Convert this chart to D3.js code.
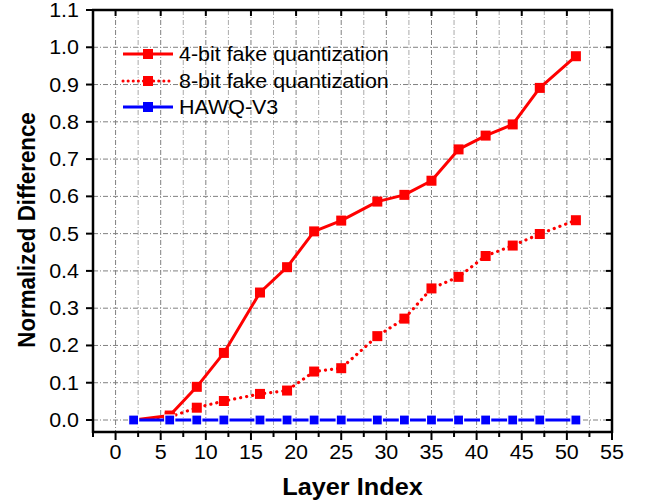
<!DOCTYPE html>
<html><head><meta charset="utf-8">
<script src="https://cdn.jsdelivr.net/npm/d3@7"></script>
<style>html,body{margin:0;padding:0;background:#fff;}svg{display:block;}</style>
</head><body>
<script>
const layers = [2, 6, 9, 12, 16, 19, 22, 25, 29, 32, 35, 38, 41, 44, 47, 51];
const fourBit = [0.0, 0.012, 0.089, 0.18, 0.342, 0.41, 0.506, 0.535, 0.586, 0.604, 0.642, 0.726, 0.763, 0.793, 0.891, 0.976];
const eightBit = [0.0, 0.008, 0.033, 0.051, 0.07, 0.079, 0.13, 0.139, 0.225, 0.272, 0.353, 0.384, 0.44, 0.468, 0.499, 0.536];
const hawq = [0, 0, 0, 0, 0, 0, 0, 0, 0, 0, 0, 0, 0, 0, 0, 0];
const seriesNames = ["4-bit fake quantization", "8-bit fake quantization", "HAWQ-V3"];
const xTicks = [0, 5, 10, 15, 20, 25, 30, 35, 40, 45, 50, 55];
const xMinor = [-2.5, 2.5, 7.5, 12.5, 17.5, 22.5, 27.5, 32.5, 37.5, 42.5, 47.5, 52.5];
const yTicks = [0.0, 0.1, 0.2, 0.3, 0.4, 0.5, 0.6, 0.7, 0.8, 0.9, 1.0, 1.1];
const xTitle = "Layer Index";
const yTitle = "Normalized Difference";

const W = 645, H = 503;
const L = 93, R = 612, T = 10, B = 432;
const SX = 1.1; // horizontal stretch of the text in the reference
const x = d3.scaleLinear().domain([-2.5, 55]).range([L, R]);
const y = d3.scaleLinear().domain([0, 1.1]).range([420, T]);

const svg = d3.select("body").append("svg").attr("width", W).attr("height", H);
const font = "Arial, 'Liberation Sans', sans-serif";

// grid
const grid = svg.append("g");
grid.selectAll(".vmin").data(xMinor.filter(v => v > -2.5)).enter().append("line")
  .attr("x1", d => x(d)).attr("x2", d => x(d)).attr("y1", T).attr("y2", B)
  .attr("stroke", "#aaaaaa").attr("stroke-width", 1).attr("stroke-dasharray", "5,2,1,2");
grid.selectAll(".vmaj").data(xTicks.filter(v => v < 55)).enter().append("line")
  .attr("x1", d => x(d)).attr("x2", d => x(d)).attr("y1", T).attr("y2", B)
  .attr("stroke", "#808080").attr("stroke-width", 1).attr("stroke-dasharray", "5,2,1,2");
grid.selectAll(".h").data(yTicks.filter(v => v < 1.1)).enter().append("line")
  .attr("x1", L).attr("x2", R).attr("y1", d => y(d)).attr("y2", d => y(d))
  .attr("stroke", "#808080").attr("stroke-width", 1).attr("stroke-dasharray", "5,2,1,2");

// series
const pts = arr => arr.map((v, i) => [layers[i], v]);
const line = d3.line().x(d => x(d[0])).y(d => y(d[1]));

function drawSeries(data, color, dash, width, markerStroke) {
  const g = svg.append("g");
  g.append("path").attr("d", line(pts(data))).attr("fill", "none")
    .attr("stroke", color).attr("stroke-width", width)
    .attr("stroke-dasharray", dash).attr("stroke-linecap", dash ? "round" : "butt")
    .attr("stroke-linejoin", "round");
  g.selectAll("rect").data(pts(data)).enter().append("rect")
    .attr("x", d => x(d[0]) - 5).attr("y", d => y(d[1]) - 5)
    .attr("width", 10).attr("height", 10).attr("fill", color)
    .attr("stroke", markerStroke).attr("stroke-width", markerStroke === "none" ? 0 : 1.2);
}
drawSeries(eightBit, "#ff0000", "0.1,6", 3.2, "none");
drawSeries(fourBit, "#ff0000", null, 3, "none");
drawSeries(hawq, "#0000ff", null, 3, "#ffffff");

// axes frame
const ax = svg.append("g").attr("stroke", "#000");
ax.append("line").attr("x1", L).attr("x2", L).attr("y1", T - 1).attr("y2", B + 1).attr("stroke-width", 2.5);
ax.append("line").attr("x1", R).attr("x2", R).attr("y1", T - 1).attr("y2", B + 1).attr("stroke-width", 2.5);
ax.append("line").attr("x1", L - 1).attr("x2", R + 1).attr("y1", T).attr("y2", T).attr("stroke-width", 2.5);
ax.append("line").attr("x1", L - 1).attr("x2", R + 1).attr("y1", B).attr("y2", B).attr("stroke-width", 2.5);

ax.selectAll(".yt").data(yTicks).enter().append("line")
  .attr("x1", L - 7).attr("x2", L).attr("y1", d => y(d)).attr("y2", d => y(d)).attr("stroke-width", 2);
ax.selectAll(".yr").data(yTicks).enter().append("line")
  .attr("x1", R - 6).attr("x2", R).attr("y1", d => y(d)).attr("y2", d => y(d)).attr("stroke-width", 2);
ax.selectAll(".xt").data(xTicks).enter().append("line")
  .attr("x1", d => x(d)).attr("x2", d => x(d)).attr("y1", B).attr("y2", B + 8).attr("stroke-width", 2);
ax.selectAll(".xm").data(xMinor).enter().append("line")
  .attr("x1", d => x(d)).attr("x2", d => x(d)).attr("y1", B).attr("y2", B + 5).attr("stroke-width", 2);
ax.selectAll(".xtt").data(xTicks).enter().append("line")
  .attr("x1", d => x(d)).attr("x2", d => x(d)).attr("y1", T).attr("y2", T + 6).attr("stroke-width", 2);

// tick labels (stretched horizontally)
svg.selectAll(".yl").data(yTicks).enter().append("text")
  .attr("transform", d => `translate(79,${y(d)}) scale(${SX},1)`).attr("dy", "0.36em")
  .attr("text-anchor", "end").attr("font-family", font).attr("font-size", 19.5)
  .text(d => d3.format(".1f")(d));
svg.selectAll(".xl").data(xTicks).enter().append("text")
  .attr("transform", d => `translate(${x(d)},459) scale(${SX},1)`)
  .attr("text-anchor", "middle").attr("font-family", font).attr("font-size", 19.5)
  .text(d => d);

// titles
svg.append("text").attr("transform", `translate(${(L + R) / 2},495) scale(${SX},1)`)
  .attr("text-anchor", "middle")
  .attr("font-family", font).attr("font-size", 23).attr("font-weight", "bold").text(xTitle);
svg.append("text").attr("transform", `translate(35,230) scale(${SX},1) rotate(-90)`)
  .attr("text-anchor", "middle").attr("font-family", font).attr("font-size", 22.3)
  .attr("font-weight", "bold").text(yTitle);

// legend
const legY = [54, 81, 107];
const legColors = ["#ff0000", "#ff0000", "#0000ff"];
const legDash = [null, "0.1,5", null];
const lg = svg.append("g");
seriesNames.forEach((name, i) => {
  lg.append("line").attr("x1", 123).attr("x2", 173).attr("y1", legY[i]).attr("y2", legY[i])
    .attr("stroke", legColors[i]).attr("stroke-width", 3)
    .attr("stroke-dasharray", legDash[i]).attr("stroke-linecap", legDash[i] ? "round" : "butt");
  lg.append("rect").attr("x", 143).attr("y", legY[i] - 5).attr("width", 10).attr("height", 10)
    .attr("fill", legColors[i]);
  lg.append("text").attr("transform", `translate(179,${legY[i]}) scale(${SX},1)`).attr("dy", "0.36em")
    .attr("font-family", font).attr("font-size", 19.5).text(name);
});
</script>
</body></html>
